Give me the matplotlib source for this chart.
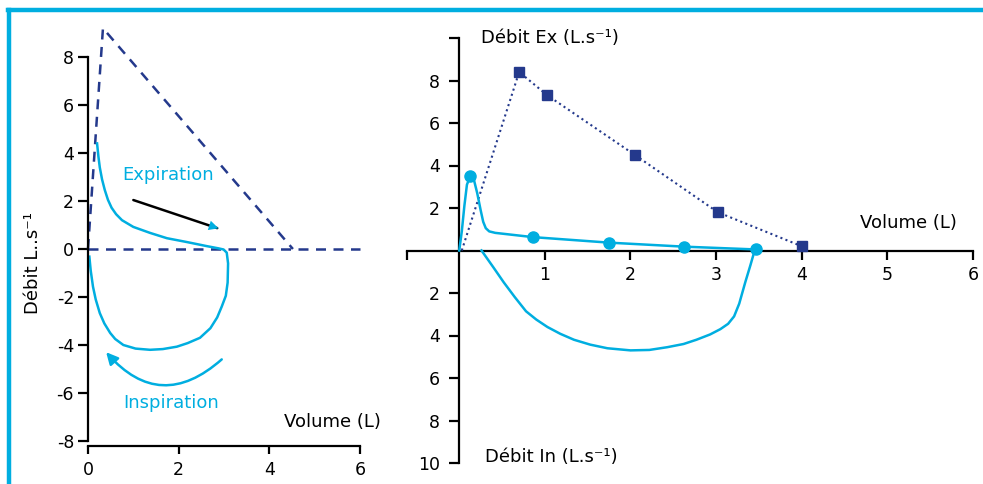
import matplotlib
matplotlib.use("Agg")
import matplotlib.pyplot as plt
from matplotlib.lines import Line2D

plt.rcParams['font.family'] = ['DejaVu Sans']
plt.rcParams['axes.unicode_minus'] = False

CYAN = '#00aee0'
NAVY = '#24398c'

# left panel: normal loop (expiration then inspiration)
loop_vol = [0.20, 0.23, 0.26, 0.31, 0.37, 0.44, 0.52, 0.62, 0.75, 1.00, 1.37, 1.74, 2.18,
            2.62, 2.87, 2.99, 3.06, 3.09, 3.08, 3.04, 2.95, 2.85, 2.70, 2.47, 2.20, 1.96,
            1.65, 1.37, 1.05, 0.78, 0.60, 0.49, 0.36, 0.26, 0.17, 0.11, 0.06, 0.03]
loop_flow = [4.4, 3.85, 3.4, 2.9, 2.46, 2.05, 1.72, 1.45, 1.2, 0.92, 0.67, 0.45, 0.29,
             0.12, 0.03, -0.02, -0.15, -0.6, -1.4, -1.95, -2.4, -2.85, -3.3, -3.7, -3.92, -4.07,
             -4.17, -4.2, -4.15, -4.0, -3.75, -3.5, -3.1, -2.67, -2.1, -1.57, -0.9, -0.32]

# left panel: dashed reference triangle
tri_vol = [0.0, 0.33, 4.52]
tri_flow = [0.0, 9.2, 0.0]
base_vol = [0.0, 6.0]
base_flow = [0.0, 0.0]

# right panel: predicted curve (squares)
pred_vol = [0.03, 0.70, 1.03, 2.05, 3.02, 4.00]
pred_flow = [0.0, 8.4, 7.3, 4.5, 1.8, 0.2]

# right panel: measured expiration
mexp_vol = [0.0, 0.03, 0.06, 0.09, 0.13, 0.17, 0.21, 0.25, 0.28, 0.31, 0.35, 0.42, 0.86,
            1.75, 2.63, 3.46]
mexp_flow = [0.0, 0.9, 2.1, 3.1, 3.5, 3.35, 2.7, 1.9, 1.35, 1.05, 0.9, 0.83, 0.63,
             0.37, 0.18, 0.05]
mark_vol = [0.13, 0.86, 1.75, 2.63, 3.46]
mark_flow = [3.5, 0.63, 0.37, 0.18, 0.05]

# right panel: measured inspiration (drawn downward)
mins_vol = [0.26, 0.40, 0.52, 0.65, 0.78, 0.90, 1.03, 1.18, 1.34, 1.53, 1.73, 2.00, 2.22,
            2.43, 2.62, 2.77, 2.93, 3.05, 3.14, 3.21, 3.27, 3.34, 3.40, 3.45]
mins_flow = [0.0, -0.8, -1.5, -2.2, -2.86, -3.25, -3.6, -3.92, -4.2, -4.43, -4.6, -4.7, -4.68,
             -4.55, -4.4, -4.2, -3.95, -3.7, -3.45, -3.1, -2.5, -1.5, -0.7, 0.0]

left_yticks = [-8, -6, -4, -2, 0, 2, 4, 6, 8]
left_xticks = [0, 2, 4, 6]
right_xticks = [-0.61, 1, 2, 3, 4, 5, 6]
right_xlabels = ['', '1', '2', '3', '4', '5', '6']
right_yticks = [-10, -8, -6, -4, -2, 2, 4, 6, 8, 10]
right_ylabels = ['10', '8', '6', '4', '2', '2', '4', '6', '8', '']

W, H = 983, 484
fig = plt.figure(figsize=(W / 100, H / 100), dpi=100)

# frame lines
fig.add_artist(Line2D([9 / W, 9 / W], [0, 1 - 10 / H], color=CYAN, lw=3.2))
fig.add_artist(Line2D([7.5 / W, 1], [1 - 10 / H, 1 - 10 / H], color=CYAN, lw=3.2))

# ---------- left panel ----------
ax1 = fig.add_axes([88 / W, 1 - 441 / H, 272 / W, 384 / H])
ax1.set_xlim(0, 6)
ax1.set_ylim(-8, 8)
for s in ['top', 'right']:
    ax1.spines[s].set_visible(False)
ax1.spines['left'].set_linewidth(1.6)
ax1.spines['bottom'].set_linewidth(1.6)
ax1.spines['bottom'].set_position(('outward', 3.6))
ax1.set_yticks(left_yticks)
ax1.set_xticks(left_xticks)
ax1.tick_params(axis='y', length=7, width=1.6, pad=3, labelsize=12.5)
ax1.tick_params(axis='x', length=6, width=1.6, pad=4.5, labelsize=12.5)
ax1.patch.set_alpha(0)

ax1.plot(tri_vol, tri_flow, color=NAVY, lw=1.8, ls=(0, (4, 3)), clip_on=False)
ax1.plot(base_vol, base_flow, color=NAVY, lw=1.8, ls=(0, (4, 3)), clip_on=False)
ax1.plot(loop_vol, loop_flow, color=CYAN, lw=1.8, clip_on=False)

ax1.annotate('', xy=(2.85, 0.87), xytext=(1.0, 2.04),
             arrowprops=dict(arrowstyle='-', color='black', lw=1.8, shrinkA=0, shrinkB=0))
ax1.annotate('', xy=(2.88, 0.86), xytext=(2.55, 1.06),
             arrowprops=dict(arrowstyle='-|>,head_length=0.7,head_width=0.35',
                             color=CYAN, lw=0, shrinkA=0, shrinkB=0))
ax1.annotate('', xy=(0.4, -4.3), xytext=(2.95, -4.6),
             arrowprops=dict(arrowstyle='-|>,head_length=0.7,head_width=0.35',
                             connectionstyle='arc3,rad=-0.5', color=CYAN, lw=1.8,
                             shrinkA=0, shrinkB=0))

ax1.text(1.77, 3.1, 'Expiration', color=CYAN, fontsize=13, ha='center', va='center')
ax1.text(1.83, -6.4, 'Inspiration', color=CYAN, fontsize=13, ha='center', va='center')
ax1.text(5.4, -7.2, 'Volume (L)', color='black', fontsize=13, ha='center', va='center')
fig.text(33 / W, 1 - 263 / H, 'Débit L..s⁻¹', rotation=90, fontsize=13,
         ha='center', va='center')

# ---------- right panel ----------
ax2 = fig.add_axes([407 / W, 1 - 463 / H, 566 / W, 425 / H])
ax2.set_xlim(-0.61, 6)
ax2.set_ylim(-10, 10)
ax2.patch.set_alpha(0)
for s in ['top', 'right']:
    ax2.spines[s].set_visible(False)
ax2.spines['left'].set_position(('data', 0))
ax2.spines['bottom'].set_position(('data', 0))
ax2.spines['left'].set_linewidth(1.6)
ax2.spines['bottom'].set_linewidth(1.6)
ax2.set_xticks(right_xticks)
ax2.set_xticklabels(right_xlabels)
ax2.set_yticks(right_yticks)
ax2.set_yticklabels(right_ylabels)
ax2.tick_params(axis='y', length=7, width=1.6, pad=7, labelsize=12.5)
ax2.tick_params(axis='x', length=6.5, width=1.6, pad=4.5, labelsize=12.5)

ax2.plot(pred_vol, pred_flow, color=NAVY, lw=1.5, ls=(0, (1, 1.6)),
         marker='s', markersize=7, markevery=list(range(1, len(pred_vol))),
         clip_on=False, zorder=3)
ax2.plot(mexp_vol, mexp_flow, color=CYAN, lw=1.8, clip_on=False, zorder=4)
ax2.plot(mark_vol, mark_flow, color=CYAN, lw=0, marker='o', markersize=8,
         clip_on=False, zorder=5)
ax2.plot(mins_vol, mins_flow, color=CYAN, lw=1.8, clip_on=False, zorder=4)

ax2.text(0.25, 10, 'Débit Ex (L.s⁻¹)', fontsize=13, ha='left', va='center')
ax2.text(5.25, 1.3, 'Volume (L)', fontsize=13, ha='center', va='center')
ax2.text(0.3, -9.7, 'Débit In (L.s⁻¹)', fontsize=13, ha='left', va='center')

fig.savefig('out.png', dpi=100)
